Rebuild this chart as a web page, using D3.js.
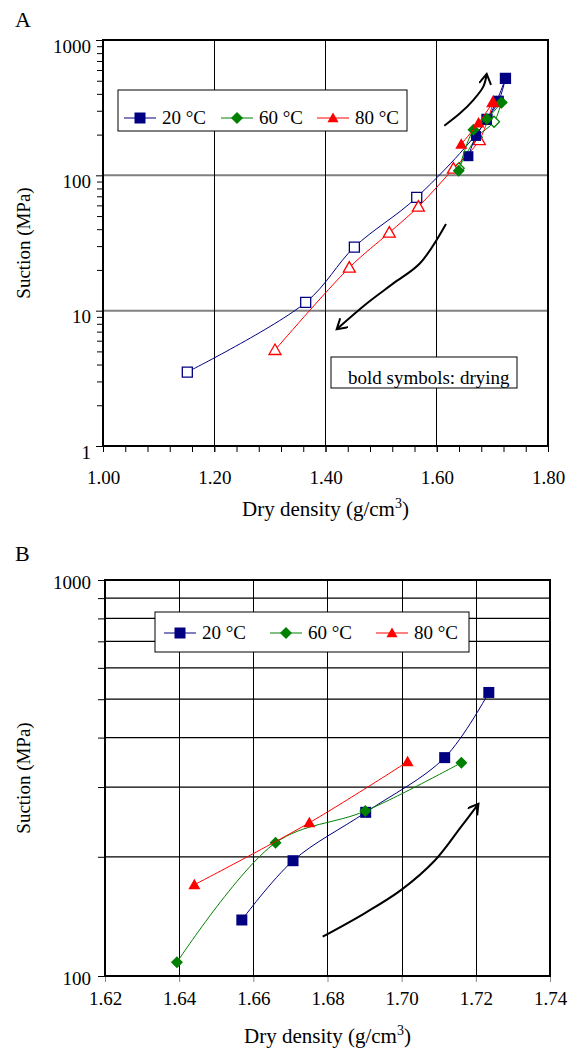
<!DOCTYPE html>
<html>
<head>
<meta charset="utf-8">
<script src="https://cdn.jsdelivr.net/npm/d3@7"></script>
<style>
  body { margin: 0; background: #fff; }
  svg text { font-family: "Liberation Serif", "Times New Roman", serif; fill: #000; }
</style>
</head>
<body>
<svg id="chart" width="579" height="1050"></svg>
<script>
const seriesLabels = ["20 °C", "60 °C", "80 °C"];

// drying branch (bold symbols), shared by both panels
const dry20Density = [1.6569, 1.6707, 1.6903, 1.7116, 1.7235];
const dry20Suction = [138.5, 195.5, 259, 356, 520];
const dry60Density = [1.6394, 1.6660, 1.6902, 1.7161];
const dry60Suction = [108.3, 217, 261, 345.7];
const dry80Density = [1.6441, 1.6751, 1.7016];
const dry80Suction = [170, 243.8, 347.7];

// wetting branch (open symbols), panel A only
const wet20Density = [1.7235, 1.6903, 1.564, 1.4519, 1.3644, 1.1516];
const wet20Suction = [520, 259, 68.8, 29.5, 11.5, 3.52];
const wet60Density = [1.7161, 1.703, 1.672, 1.6395];
const wet60Suction = [345.7, 249, 191, 112.7];
const wet80Density = [1.7016, 1.6765, 1.630, 1.567, 1.5147, 1.4428, 1.3092];
const wet80Suction = [347.7, 182, 112, 58.7, 37.7, 20.8, 5.12];

// tick labels
const xTicksA = [1.0, 1.2, 1.4, 1.6, 1.8];
const yTicksA = [1, 10, 100, 1000];
const xTicksB = [1.62, 1.64, 1.66, 1.68, 1.70, 1.72, 1.74];
const yTicksB = [100, 1000];
const yGridB = [200, 300, 400, 500, 600, 700, 800, 900];

// arrow annotations, in data units
const arrowUpA = [[1.6136, 232.7], [1.6418, 287], [1.6657, 360], [1.6837, 452], [1.6898, 561]];
const arrowDownA = [[1.6166, 43.7], [1.5699, 22.4], [1.5219, 15.9], [1.4741, 11.3], [1.4201, 7.28]];
const arrowUpB = [[1.6787, 125.7], [1.690, 144], [1.6999, 165], [1.709, 196], [1.716, 238], [1.7207, 272]];

const colors = ["#000080", "#008000", "#ff0000"];
const shapes = ["square", "diamond", "triangle"];

const svg = d3.select("#chart");

svg.append("defs").append("marker")
    .attr("id", "head")
    .attr("markerUnits", "userSpaceOnUse")
    .attr("markerWidth", 14)
    .attr("markerHeight", 14)
    .attr("refX", 11)
    .attr("refY", 6)
    .attr("orient", "auto")
    .append("path")
    .attr("d", "M1,0 L11,6 L1,12")
    .attr("fill", "none")
    .attr("stroke", "#000")
    .attr("stroke-width", 2);

function markerPath(kind, s) {
    const h = s / 2;
    if (kind === "square") return `M${-h},${-h}H${h}V${h}H${-h}Z`;
    if (kind === "diamond") return `M0,${-h}L${h},0L0,${h}L${-h},0Z`;
    return `M0,${-h}L${h},${h * 0.75}L${-h},${h * 0.75}Z`;
}

function drawSeries(g, x, y, dens, suc, i, open, size) {
    const pts = d3.zip(dens, suc);
    const line = d3.line()
        .x(d => x(d[0]))
        .y(d => y(d[1]))
        .curve(d3.curveCatmullRom.alpha(0.5));
    g.append("path")
        .datum(pts)
        .attr("fill", "none")
        .attr("stroke", colors[i])
        .attr("stroke-width", 1)
        .attr("d", line);
    g.selectAll(null)
        .data(pts)
        .join("path")
        .attr("transform", d => `translate(${x(d[0])},${y(d[1])})`)
        .attr("d", markerPath(shapes[i], size))
        .attr("fill", open ? "#fff" : colors[i])
        .attr("stroke", colors[i])
        .attr("stroke-width", open ? 1.3 : 0);
}

function drawLegend(g, x0, y0, w, h, items) {
    g.append("rect")
        .attr("x", x0).attr("y", y0)
        .attr("width", w).attr("height", h)
        .attr("fill", "#fff").attr("stroke", "#000").attr("stroke-width", 1);
    items.forEach((it, i) => {
        g.append("line")
            .attr("x1", it.x).attr("x2", it.x + 32)
            .attr("y1", it.y).attr("y2", it.y)
            .attr("stroke", colors[i]).attr("stroke-width", 1);
        g.append("path")
            .attr("transform", `translate(${it.x + 16},${it.y})`)
            .attr("d", markerPath(shapes[i], i === 1 ? 12 : 11))
            .attr("fill", colors[i]);
        g.append("text")
            .attr("x", it.x + 38).attr("y", it.y + 6)
            .style("font-size", "19px")
            .text(seriesLabels[i]);
    });
}

function drawArrow(g, x, y, pts) {
    g.append("path")
        .datum(pts)
        .attr("fill", "none")
        .attr("stroke", "#000")
        .attr("stroke-width", 2)
        .attr("marker-end", "url(#head)")
        .attr("d", d3.line().x(d => x(d[0])).y(d => y(d[1])).curve(d3.curveCatmullRom));
}

function axisTitle(g, cx, cy) {
    const t = g.append("text")
        .attr("x", cx).attr("y", cy)
        .attr("text-anchor", "middle")
        .style("font-size", "21px");
    t.append("tspan").text("Dry density (g/cm");
    t.append("tspan").attr("dy", -8).style("font-size", "14px").text("3");
    t.append("tspan").attr("dy", 8).text(")");
}

// ---------- Panel A ----------
const xA = d3.scaleLinear().domain([1.0, 1.8]).range([103, 548]);
const yA = d3.scaleLog().domain([1, 1000]).range([446, 40]);
const gA = svg.append("g");

gA.selectAll(".hg").data([10, 100]).join("line")
    .attr("x1", 103).attr("x2", 548)
    .attr("y1", d => yA(d)).attr("y2", d => yA(d))
    .attr("stroke", "#808080").attr("stroke-width", 2);
gA.selectAll(".vg").data(xTicksA.slice(1, -1)).join("line")
    .attr("x1", d => xA(d)).attr("x2", d => xA(d))
    .attr("y1", 40).attr("y2", 446)
    .attr("stroke", "#000").attr("stroke-width", 1)
    .attr("shape-rendering", "crispEdges");

const yMinorA = [];
[1, 10, 100].forEach(p => { for (let k = 2; k <= 9; k++) yMinorA.push(p * k); });

gA.append("g").attr("transform", "translate(103,0)")
    .call(d3.axisLeft(yA).tickValues(yMinorA).tickSize(6).tickFormat(""))
    .call(a => a.select(".domain").remove());
gA.append("g").attr("transform", "translate(103,0)")
    .call(d3.axisLeft(yA).tickValues(yTicksA).tickSize(7).tickFormat(d3.format("d")))
    .call(a => a.select(".domain").remove())
    .call(a => a.selectAll("text").attr("x", -12).attr("dy", null).attr("y", 12).style("font-size", "19px"));

gA.append("g").attr("transform", "translate(0,446)")
    .call(d3.axisBottom(xA).tickValues(d3.range(0, 21).map(k => 1.0 + k * 0.04)).tickSize(6).tickFormat(""))
    .call(a => a.select(".domain").remove());
gA.append("g").attr("transform", "translate(0,446)")
    .call(d3.axisBottom(xA).tickValues(xTicksA).tickSize(6).tickFormat(d3.format(".2f")))
    .call(a => a.select(".domain").remove())
    .call(a => a.selectAll("text").attr("dy", null).attr("y", 38).style("font-size", "19px"));

gA.append("rect")
    .attr("x", 103).attr("y", 40).attr("width", 445).attr("height", 406)
    .attr("fill", "none").attr("stroke", "#000").attr("stroke-width", 2);

drawSeries(gA, xA, yA, wet20Density, wet20Suction, 0, true, 10);
drawSeries(gA, xA, yA, wet60Density, wet60Suction, 1, true, 11);
drawSeries(gA, xA, yA, wet80Density, wet80Suction, 2, true, 12);
drawSeries(gA, xA, yA, dry20Density, dry20Suction, 0, false, 10);
drawSeries(gA, xA, yA, dry60Density, dry60Suction, 1, false, 12);
drawSeries(gA, xA, yA, dry80Density, dry80Suction, 2, false, 12);

drawArrow(gA, xA, yA, arrowUpA);
drawArrow(gA, xA, yA, arrowDownA);

drawLegend(gA, 118, 90, 289, 41, [{x: 124, y: 118}, {x: 221, y: 118}, {x: 317, y: 118}]);

gA.append("rect")
    .attr("x", 331).attr("y", 357).attr("width", 186).attr("height", 31)
    .attr("fill", "#fff").attr("stroke", "#000").attr("stroke-width", 1);
gA.append("text")
    .attr("x", 348).attr("y", 384)
    .style("font-size", "19px")
    .text("bold symbols: drying");

gA.append("text").attr("x", 15).attr("y", 27).style("font-size", "22px").text("A");
gA.append("text")
    .attr("transform", `translate(30,${(40 + 446) / 2}) rotate(-90)`)
    .attr("text-anchor", "middle")
    .style("font-size", "19px")
    .text("Suction (MPa)");
axisTitle(gA, (103 + 548) / 2, 516);

// ---------- Panel B ----------
const xB = d3.scaleLinear().domain([1.62, 1.74]).range([105, 550]);
const yB = d3.scaleLog().domain([100, 1000]).range([976, 580]);
const gB = svg.append("g");

gB.selectAll(".hg").data(yGridB).join("line")
    .attr("x1", 105).attr("x2", 550)
    .attr("y1", d => yB(d)).attr("y2", d => yB(d))
    .attr("stroke", "#000").attr("stroke-width", 1.2);
gB.selectAll(".vg").data(xTicksB.slice(1, -1)).join("line")
    .attr("x1", d => Math.round(xB(d)) + 0.5).attr("x2", d => Math.round(xB(d)) + 0.5)
    .attr("y1", 580).attr("y2", 976)
    .attr("stroke", "#000").attr("stroke-width", 1);

gB.append("g").attr("transform", "translate(105,0)")
    .call(d3.axisLeft(yB).tickValues([...yTicksB, ...yGridB]).tickSize(7)
        .tickFormat(d => yTicksB.includes(d) ? d3.format("d")(d) : ""))
    .call(a => a.select(".domain").remove())
    .call(a => a.selectAll("text").attr("x", -14).attr("dy", null).attr("y", 8).style("font-size", "19px"));

gB.append("g").attr("transform", "translate(0,976)")
    .call(d3.axisBottom(xB).tickValues(xTicksB).tickSize(6).tickFormat(d3.format(".2f")))
    .call(a => a.select(".domain").remove())
    .call(a => a.selectAll("line").attr("stroke", "#888"))
    .call(a => a.selectAll("text").attr("dy", null).attr("y", 29).style("font-size", "19px"));

gB.append("rect")
    .attr("x", 105).attr("y", 580).attr("width", 445).attr("height", 396)
    .attr("fill", "none").attr("stroke", "#000").attr("stroke-width", 2);

drawSeries(gB, xB, yB, dry20Density, dry20Suction, 0, false, 11);
drawSeries(gB, xB, yB, dry60Density, dry60Suction, 1, false, 12);
drawSeries(gB, xB, yB, dry80Density, dry80Suction, 2, false, 12);

drawArrow(gB, xB, yB, arrowUpB);

drawLegend(gB, 155, 612, 314, 40, [{x: 164, y: 633}, {x: 270, y: 633}, {x: 376, y: 633}]);

gB.append("text").attr("x", 15).attr("y", 561).style("font-size", "22px").text("B");
gB.append("text")
    .attr("transform", `translate(30,${(580 + 976) / 2}) rotate(-90)`)
    .attr("text-anchor", "middle")
    .style("font-size", "19px")
    .text("Suction (MPa)");
axisTitle(gB, (105 + 550) / 2, 1043);
</script>
</body>
</html>
